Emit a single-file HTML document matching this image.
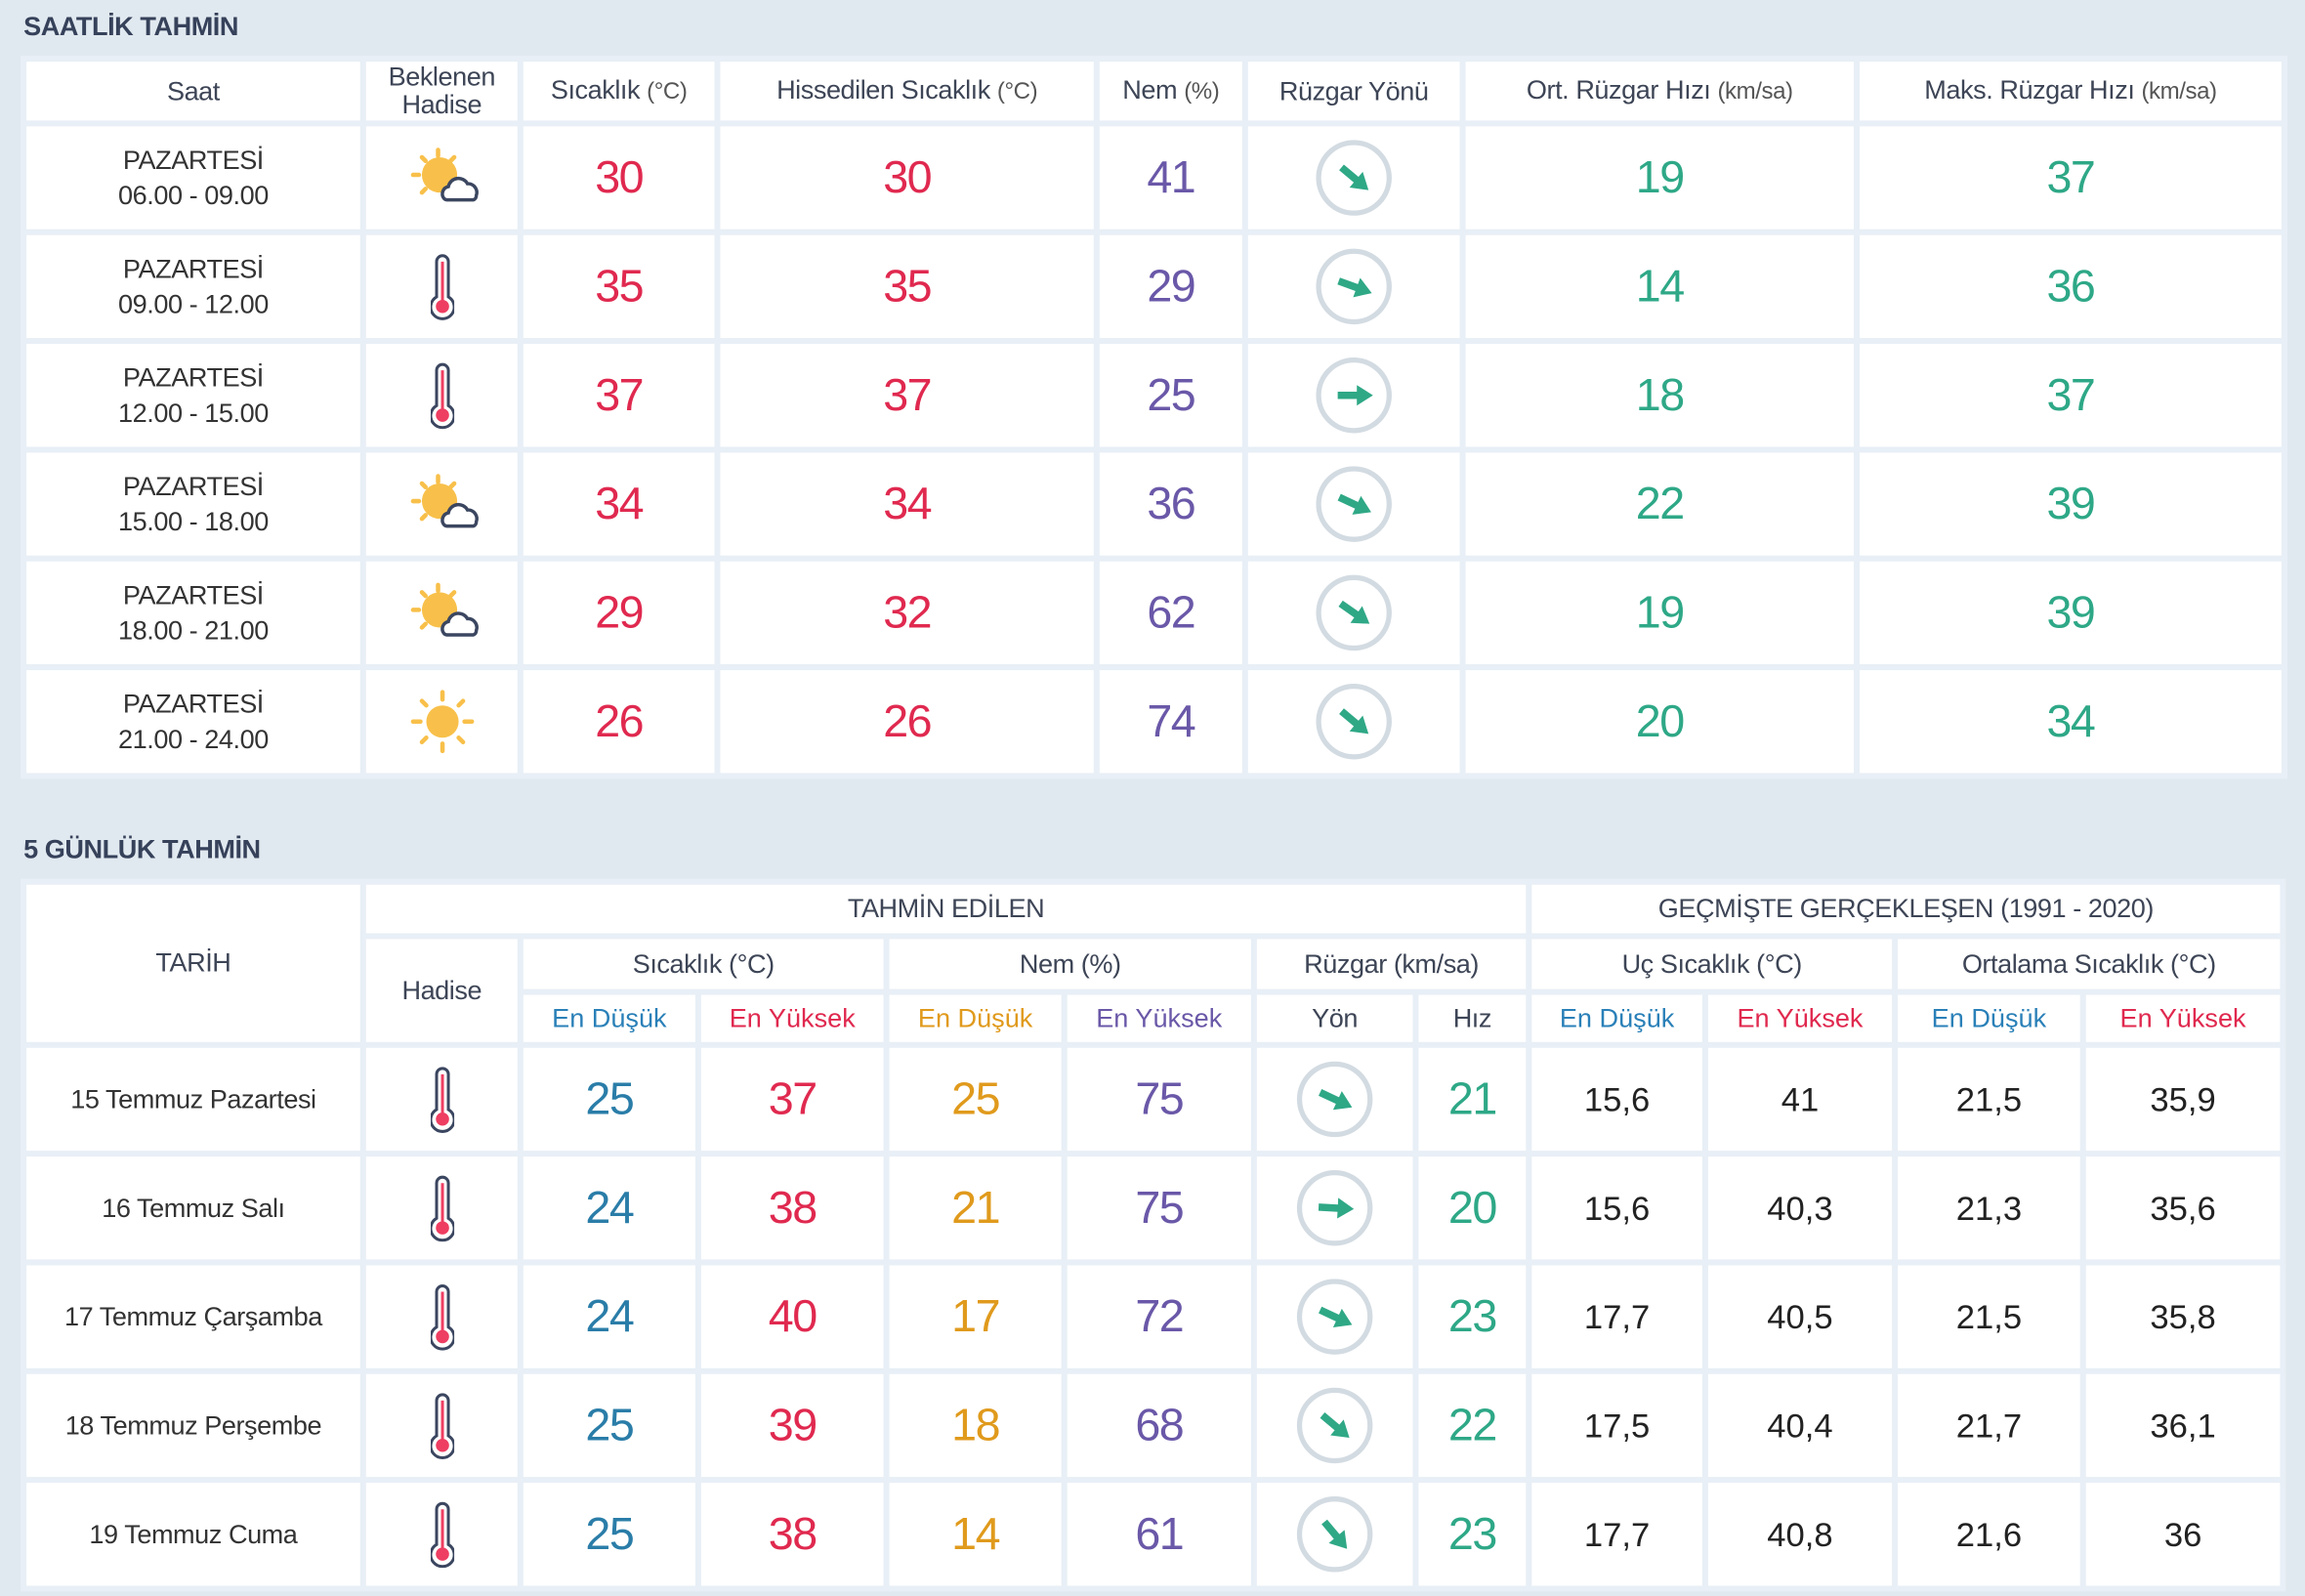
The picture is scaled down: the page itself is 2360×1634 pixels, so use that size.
<!DOCTYPE html>
<html><head><meta charset="utf-8">
<style>
html,body{margin:0;padding:0;background:#e1e9f0;}
body{width:2360px;height:1634px;overflow:hidden;position:relative;font-family:"Liberation Sans",sans-serif;}
#w{position:absolute;left:0;top:0;width:1568px;height:1086px;transform:scale(1.5051,1.5046);transform-origin:0 0;}
h2{position:absolute;left:16px;margin:0;font-size:18px;font-weight:bold;color:#36415a;letter-spacing:-0.3px;}
table{position:absolute;left:14px;border-collapse:separate;border-spacing:4px;background:#e8eff6;table-layout:fixed;}
td{background:#fff;text-align:center;vertical-align:middle;padding:0;color:#3b4250;}
.h{font-size:18px;color:#3d4556;letter-spacing:-0.3px;line-height:19px;}
.h small{font-size:16px;color:#555;}
.d{font-size:18px;line-height:24px;color:#333;letter-spacing:-0.3px;}
.n{font-size:31px;letter-spacing:-1px;}
.r{color:#e0294f}.p{color:#6a58a8}.g{color:#2ea887}.b{color:#2a7da8}.o{color:#e09a1c}.k{color:#222;font-size:23px;}
.eb{color:#2a80b8;font-size:18px}.er{color:#e0294f;font-size:18px}.eo{color:#e09a1c;font-size:18px}.ep{color:#6a58a8;font-size:18px}
svg{display:block;margin:0 auto;}
</style></head><body>
<svg width="0" height="0" style="position:absolute">
<defs>
<symbol id="sc" viewBox="0 0 52 44">
<g stroke="#f8c04a" stroke-width="3" stroke-linecap="round">
<line x1="23" y1="3" x2="23" y2="7"/><line x1="12" y1="8" x2="14.5" y2="10.5"/><line x1="34" y1="8" x2="31.5" y2="10.5"/><line x1="6" y1="20" x2="10" y2="20"/><line x1="12" y1="32" x2="14.5" y2="29.5"/></g>
<circle cx="24" cy="20" r="12" fill="#f8c04a"/>
<path d="M27 36 a5 5 0 0 1 3 -8 a7 7 0 0 1 13 -2 a6 6 0 0 1 6 8 a3 3 0 0 1 -2 3 h-18 a3 3 0 0 1 -2 -1z" fill="#fff" stroke="#3b4660" stroke-width="2.3"/>
</symbol>
<symbol id="sun" viewBox="0 0 52 44">
<g stroke="#f8c04a" stroke-width="3" stroke-linecap="round">
<line x1="26" y1="2" x2="26" y2="7"/><line x1="26" y1="37" x2="26" y2="42"/><line x1="6" y1="22" x2="11" y2="22"/><line x1="41" y1="22" x2="46" y2="22"/>
<line x1="12" y1="8" x2="15" y2="11"/><line x1="40" y1="8" x2="37" y2="11"/><line x1="12" y1="36" x2="15" y2="33"/><line x1="40" y1="36" x2="37" y2="33"/></g>
<circle cx="26" cy="22" r="11" fill="#f8c04a"/>
</symbol>
<symbol id="th" viewBox="0 0 16 46">
<path d="M4 30 V6 a4 4 0 0 1 8 0 V30 a8 8 0 1 1 -8 0z" fill="#fff" stroke="#3b4660" stroke-width="2"/>
<line x1="8" y1="6" x2="8" y2="34" stroke="#ee3e62" stroke-width="2"/>
<circle cx="8" cy="36.5" r="4.5" fill="#ee3e62"/>
</symbol>
<symbol id="wc" viewBox="-28 -28 56 56">
<circle r="24" fill="#fff" stroke="#d3dbe2" stroke-width="3.5"/>
</symbol>
</defs></svg>
<div id="w">
<h2 style="top:8px">SAATLİK TAHMİN</h2>
<table style="top:38px">
<colgroup><col style="width:227px"><col style="width:103px"><col style="width:130px"><col style="width:254px"><col style="width:97px"><col style="width:144px"><col style="width:264px"><col style="width:287px"></colgroup>
<tr style="height:40px" class="h"><td class="h">Saat</td><td class="h">Beklenen<br>Hadise</td><td class="h">Sıcaklık <small>(°C)</small></td><td class="h">Hissedilen Sıcaklık <small>(°C)</small></td><td class="h">Nem <small>(%)</small></td><td class="h">Rüzgar Yönü</td><td class="h">Ort. Rüzgar Hızı <small>(km/sa)</small></td><td class="h">Maks. Rüzgar Hızı <small>(km/sa)</small></td></tr>
<tr style="height:70px"><td class="d">PAZARTESİ<br>06.00 - 09.00</td><td><svg width="52" height="44"><use href="#sc"/></svg></td><td class="n r">30</td><td class="n r">30</td><td class="n p">41</td><td><svg width="56" height="56" viewBox="-28 -28 56 56"><use href="#wc" x="-28" y="-28" width="56" height="56"/><g transform="rotate(40)"><line x1="-11" y1="0" x2="4" y2="0" stroke="#2fa886" stroke-width="5"/><polygon points="2,-7 13,0 2,7" fill="#2fa886"/></g></svg></td><td class="n g">19</td><td class="n g">37</td></tr>
<tr style="height:70px"><td class="d">PAZARTESİ<br>09.00 - 12.00</td><td><svg width="16" height="46"><use href="#th"/></svg></td><td class="n r">35</td><td class="n r">35</td><td class="n p">29</td><td><svg width="56" height="56" viewBox="-28 -28 56 56"><use href="#wc" x="-28" y="-28" width="56" height="56"/><g transform="rotate(20)"><line x1="-11" y1="0" x2="4" y2="0" stroke="#2fa886" stroke-width="5"/><polygon points="2,-7 13,0 2,7" fill="#2fa886"/></g></svg></td><td class="n g">14</td><td class="n g">36</td></tr>
<tr style="height:70px"><td class="d">PAZARTESİ<br>12.00 - 15.00</td><td><svg width="16" height="46"><use href="#th"/></svg></td><td class="n r">37</td><td class="n r">37</td><td class="n p">25</td><td><svg width="56" height="56" viewBox="-28 -28 56 56"><use href="#wc" x="-28" y="-28" width="56" height="56"/><g transform="rotate(0)"><line x1="-11" y1="0" x2="4" y2="0" stroke="#2fa886" stroke-width="5"/><polygon points="2,-7 13,0 2,7" fill="#2fa886"/></g></svg></td><td class="n g">18</td><td class="n g">37</td></tr>
<tr style="height:70px"><td class="d">PAZARTESİ<br>15.00 - 18.00</td><td><svg width="52" height="44"><use href="#sc"/></svg></td><td class="n r">34</td><td class="n r">34</td><td class="n p">36</td><td><svg width="56" height="56" viewBox="-28 -28 56 56"><use href="#wc" x="-28" y="-28" width="56" height="56"/><g transform="rotate(25)"><line x1="-11" y1="0" x2="4" y2="0" stroke="#2fa886" stroke-width="5"/><polygon points="2,-7 13,0 2,7" fill="#2fa886"/></g></svg></td><td class="n g">22</td><td class="n g">39</td></tr>
<tr style="height:70px"><td class="d">PAZARTESİ<br>18.00 - 21.00</td><td><svg width="52" height="44"><use href="#sc"/></svg></td><td class="n r">29</td><td class="n r">32</td><td class="n p">62</td><td><svg width="56" height="56" viewBox="-28 -28 56 56"><use href="#wc" x="-28" y="-28" width="56" height="56"/><g transform="rotate(35)"><line x1="-11" y1="0" x2="4" y2="0" stroke="#2fa886" stroke-width="5"/><polygon points="2,-7 13,0 2,7" fill="#2fa886"/></g></svg></td><td class="n g">19</td><td class="n g">39</td></tr>
<tr style="height:70px"><td class="d">PAZARTESİ<br>21.00 - 24.00</td><td><svg width="52" height="44"><use href="#sun"/></svg></td><td class="n r">26</td><td class="n r">26</td><td class="n p">74</td><td><svg width="56" height="56" viewBox="-28 -28 56 56"><use href="#wc" x="-28" y="-28" width="56" height="56"/><g transform="rotate(40)"><line x1="-11" y1="0" x2="4" y2="0" stroke="#2fa886" stroke-width="5"/><polygon points="2,-7 13,0 2,7" fill="#2fa886"/></g></svg></td><td class="n g">20</td><td class="n g">34</td></tr>
</table>

<h2 style="top:568px">5 GÜNLÜK TAHMİN</h2>
<table style="top:598px">
<colgroup><col style="width:227px"><col style="width:103px"><col style="width:117px"><col style="width:124px"><col style="width:117px"><col style="width:125px"><col style="width:106px"><col style="width:73px"><col style="width:116px"><col style="width:125px"><col style="width:124px"><col style="width:132px"></colgroup>
<tr style="height:33px"><td class="h" rowspan="3">TARİH</td><td class="h" colspan="7">TAHMİN EDİLEN</td><td class="h" colspan="4">GEÇMİŞTE GERÇEKLEŞEN (1991 - 2020)</td></tr>
<tr style="height:34px"><td class="h" rowspan="2">Hadise</td><td class="h" colspan="2">Sıcaklık (°C)</td><td class="h" colspan="2">Nem (%)</td><td class="h" colspan="2">Rüzgar (km/sa)</td><td class="h" colspan="2">Uç Sıcaklık (°C)</td><td class="h" colspan="2">Ortalama Sıcaklık (°C)</td></tr>
<tr style="height:32px"><td class="eb">En Düşük</td><td class="er">En Yüksek</td><td class="eo">En Düşük</td><td class="ep">En Yüksek</td><td class="h">Yön</td><td class="h">Hız</td><td class="eb">En Düşük</td><td class="er">En Yüksek</td><td class="eb">En Düşük</td><td class="er">En Yüksek</td></tr>
<tr style="height:70px"><td class="d">15 Temmuz Pazartesi</td><td><svg width="16" height="46"><use href="#th"/></svg></td><td class="n b">25</td><td class="n r">37</td><td class="n o">25</td><td class="n p">75</td><td><svg width="56" height="56" viewBox="-28 -28 56 56"><use href="#wc" x="-28" y="-28" width="56" height="56"/><g transform="rotate(25)"><line x1="-11" y1="0" x2="4" y2="0" stroke="#2fa886" stroke-width="5"/><polygon points="2,-7 13,0 2,7" fill="#2fa886"/></g></svg></td><td class="n g">21</td><td class="k">15,6</td><td class="k">41</td><td class="k">21,5</td><td class="k">35,9</td></tr>
<tr style="height:70px"><td class="d">16 Temmuz Salı</td><td><svg width="16" height="46"><use href="#th"/></svg></td><td class="n b">24</td><td class="n r">38</td><td class="n o">21</td><td class="n p">75</td><td><svg width="56" height="56" viewBox="-28 -28 56 56"><use href="#wc" x="-28" y="-28" width="56" height="56"/><g transform="rotate(3)"><line x1="-11" y1="0" x2="4" y2="0" stroke="#2fa886" stroke-width="5"/><polygon points="2,-7 13,0 2,7" fill="#2fa886"/></g></svg></td><td class="n g">20</td><td class="k">15,6</td><td class="k">40,3</td><td class="k">21,3</td><td class="k">35,6</td></tr>
<tr style="height:70px"><td class="d">17 Temmuz Çarşamba</td><td><svg width="16" height="46"><use href="#th"/></svg></td><td class="n b">24</td><td class="n r">40</td><td class="n o">17</td><td class="n p">72</td><td><svg width="56" height="56" viewBox="-28 -28 56 56"><use href="#wc" x="-28" y="-28" width="56" height="56"/><g transform="rotate(25)"><line x1="-11" y1="0" x2="4" y2="0" stroke="#2fa886" stroke-width="5"/><polygon points="2,-7 13,0 2,7" fill="#2fa886"/></g></svg></td><td class="n g">23</td><td class="k">17,7</td><td class="k">40,5</td><td class="k">21,5</td><td class="k">35,8</td></tr>
<tr style="height:70px"><td class="d">18 Temmuz Perşembe</td><td><svg width="16" height="46"><use href="#th"/></svg></td><td class="n b">25</td><td class="n r">39</td><td class="n o">18</td><td class="n p">68</td><td><svg width="56" height="56" viewBox="-28 -28 56 56"><use href="#wc" x="-28" y="-28" width="56" height="56"/><g transform="rotate(40)"><line x1="-11" y1="0" x2="4" y2="0" stroke="#2fa886" stroke-width="5"/><polygon points="2,-7 13,0 2,7" fill="#2fa886"/></g></svg></td><td class="n g">22</td><td class="k">17,5</td><td class="k">40,4</td><td class="k">21,7</td><td class="k">36,1</td></tr>
<tr style="height:70px"><td class="d">19 Temmuz Cuma</td><td><svg width="16" height="46"><use href="#th"/></svg></td><td class="n b">25</td><td class="n r">38</td><td class="n o">14</td><td class="n p">61</td><td><svg width="56" height="56" viewBox="-28 -28 56 56"><use href="#wc" x="-28" y="-28" width="56" height="56"/><g transform="rotate(50)"><line x1="-11" y1="0" x2="4" y2="0" stroke="#2fa886" stroke-width="5"/><polygon points="2,-7 13,0 2,7" fill="#2fa886"/></g></svg></td><td class="n g">23</td><td class="k">17,7</td><td class="k">40,8</td><td class="k">21,6</td><td class="k">36</td></tr>
</table>
</div>
</body></html>
